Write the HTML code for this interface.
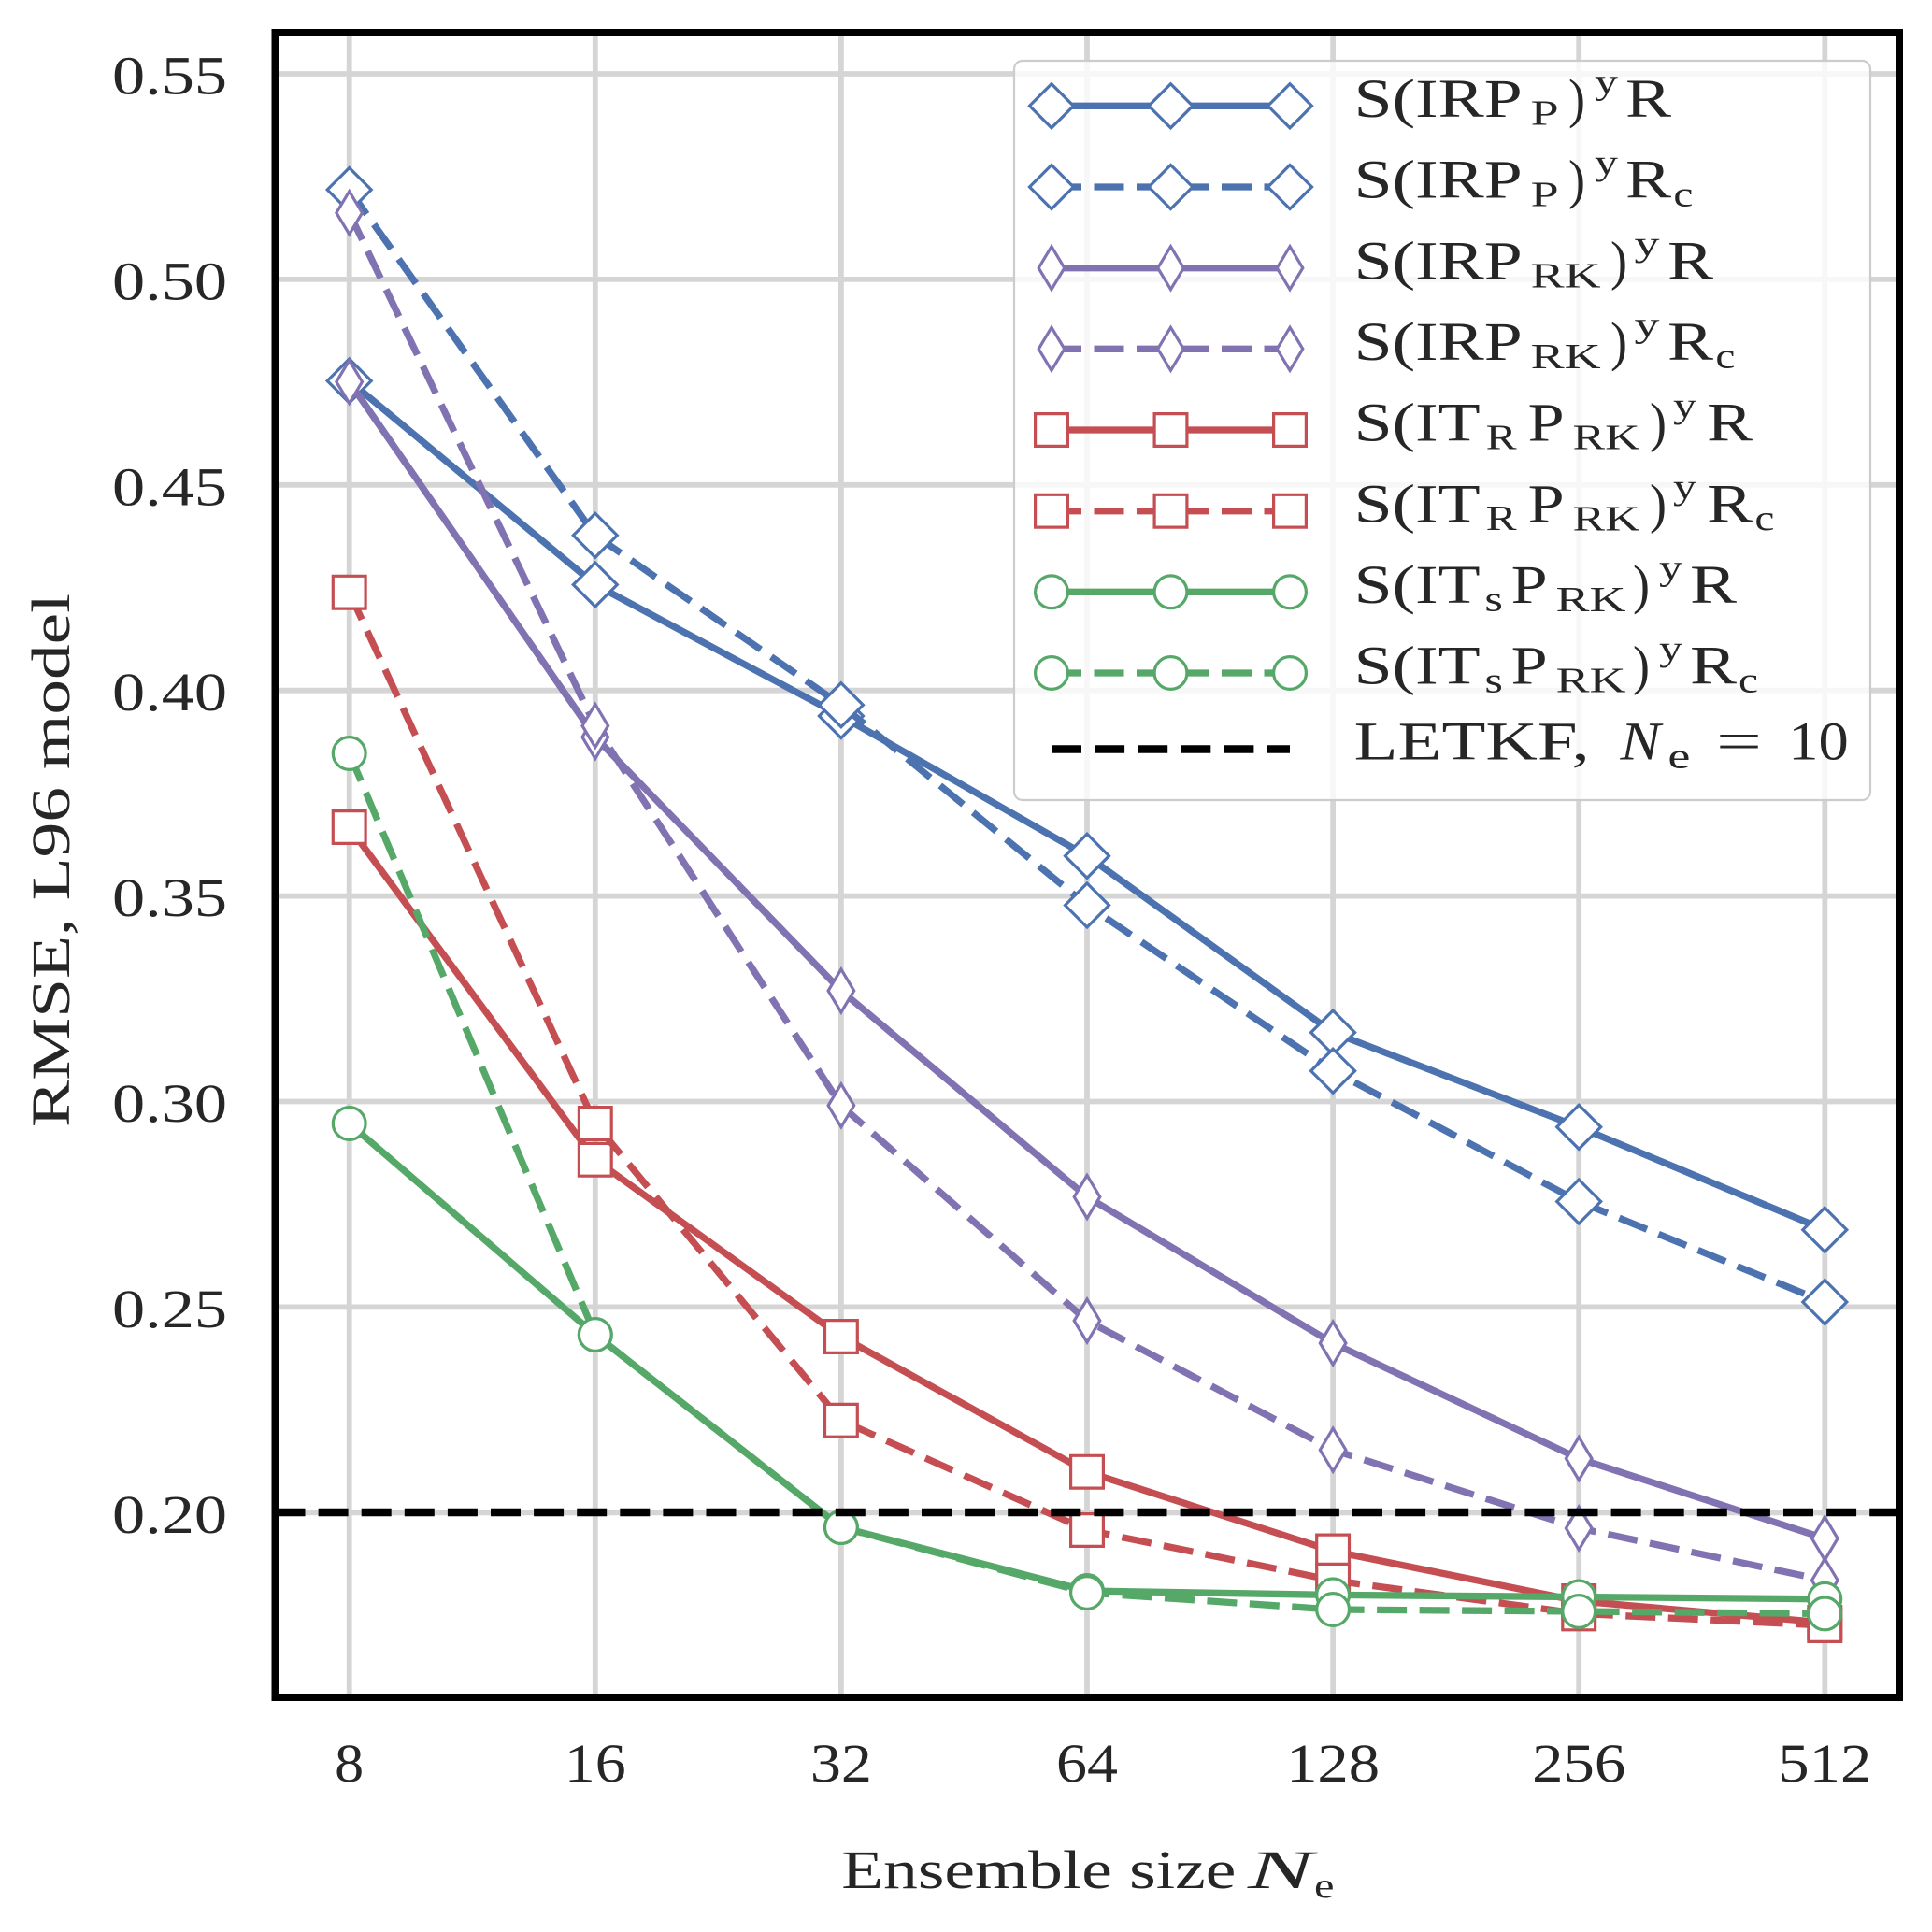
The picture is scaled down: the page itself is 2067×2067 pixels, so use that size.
<!DOCTYPE html>
<html>
<head>
<meta charset="utf-8">
<style>
html,body{margin:0;padding:0;background:#fff;}
svg{display:block;}
text{font-family:"Liberation Serif",serif;fill:#262626;}
</style>
</head>
<body>
<svg width="2067" height="2067" viewBox="0 0 2067 2067">
<defs>
  <path id="mD" d="M0,-23.5 L23.5,0 L0,23.5 L-23.5,0 Z" fill="#fff" stroke-width="3.2" stroke-dasharray="none" stroke-linejoin="miter"/>
  <path id="md" d="M0,-23 L13.8,0 L0,23 L-13.8,0 Z" fill="#fff" stroke-width="3.2" stroke-dasharray="none" stroke-linejoin="miter"/>
  <path id="ms" d="M-17.4,-17.4 H17.4 V17.4 H-17.4 Z" fill="#fff" stroke-width="3.2" stroke-dasharray="none" stroke-linejoin="miter"/>
  <circle id="mo" cx="0" cy="0" r="17.4" fill="#fff" stroke-width="3.2" stroke-dasharray="none"/>
</defs>

<rect x="0" y="0" width="2067" height="2067" fill="#fff"/>

<!-- grid -->
<g stroke="#d5d5d5" stroke-width="5.8">
  <line x1="373.7" y1="35" x2="373.7" y2="1816"/>
  <line x1="636.8" y1="35" x2="636.8" y2="1816"/>
  <line x1="899.9" y1="35" x2="899.9" y2="1816"/>
  <line x1="1163" y1="35" x2="1163" y2="1816"/>
  <line x1="1426.1" y1="35" x2="1426.1" y2="1816"/>
  <line x1="1689.2" y1="35" x2="1689.2" y2="1816"/>
  <line x1="1952.3" y1="35" x2="1952.3" y2="1816"/>
  <line x1="294.5" y1="79" x2="2032" y2="79"/>
  <line x1="294.5" y1="298.9" x2="2032" y2="298.9"/>
  <line x1="294.5" y1="518.8" x2="2032" y2="518.8"/>
  <line x1="294.5" y1="738.7" x2="2032" y2="738.7"/>
  <line x1="294.5" y1="958.6" x2="2032" y2="958.6"/>
  <line x1="294.5" y1="1178.5" x2="2032" y2="1178.5"/>
  <line x1="294.5" y1="1398.4" x2="2032" y2="1398.4"/>
  <line x1="294.5" y1="1618.3" x2="2032" y2="1618.3"/>
</g>

<!-- Blue solid -->
<g stroke="#4C72B0">
  <polyline fill="none" stroke-width="7.3" stroke-linejoin="round" points="373.7,407.5 636.8,625.5 899.9,766 1163,915.8 1426.1,1104.6 1689.2,1205.8 1952.3,1315.7"/>
  <use href="#mD" x="373.7" y="407.5"/><use href="#mD" x="636.8" y="625.5"/><use href="#mD" x="899.9" y="766"/><use href="#mD" x="1163" y="915.8"/><use href="#mD" x="1426.1" y="1104.6"/><use href="#mD" x="1689.2" y="1205.8"/><use href="#mD" x="1952.3" y="1315.7"/>
</g>
<!-- Blue dashed -->
<g stroke="#4C72B0">
  <polyline fill="none" stroke-width="7.3" stroke-dasharray="32 13.5" points="373.7,203 636.8,572.8 899.9,754.2 1163,968.5 1426.1,1145.7 1689.2,1285.5 1952.3,1393"/>
  <use href="#mD" x="373.7" y="203"/><use href="#mD" x="636.8" y="572.8"/><use href="#mD" x="899.9" y="754.2"/><use href="#mD" x="1163" y="968.5"/><use href="#mD" x="1426.1" y="1145.7"/><use href="#mD" x="1689.2" y="1285.5"/><use href="#mD" x="1952.3" y="1393"/>
</g>
<!-- Purple solid -->
<g stroke="#8172B2">
  <polyline fill="none" stroke-width="7.3" stroke-linejoin="round" points="373.7,408.5 636.8,788.6 899.9,1060 1163,1280.5 1426.1,1437 1689.2,1560.5 1952.3,1646"/>
  <use href="#md" x="373.7" y="408.5"/><use href="#md" x="636.8" y="788.6"/><use href="#md" x="899.9" y="1060"/><use href="#md" x="1163" y="1280.5"/><use href="#md" x="1426.1" y="1437"/><use href="#md" x="1689.2" y="1560.5"/><use href="#md" x="1952.3" y="1646"/>
</g>
<!-- Purple dashed -->
<g stroke="#8172B2">
  <polyline fill="none" stroke-width="7.3" stroke-dasharray="32 13.5" points="373.7,227.7 636.8,776.5 899.9,1182.8 1163,1413 1426.1,1551.2 1689.2,1635 1952.3,1690.7"/>
  <use href="#md" x="373.7" y="227.7"/><use href="#md" x="636.8" y="776.5"/><use href="#md" x="899.9" y="1182.8"/><use href="#md" x="1163" y="1413"/><use href="#md" x="1426.1" y="1551.2"/><use href="#md" x="1689.2" y="1635"/><use href="#md" x="1952.3" y="1690.7"/>
</g>
<!-- Red solid -->
<g stroke="#C44E52">
  <polyline fill="none" stroke-width="7.3" stroke-linejoin="round" points="373.7,885 636.8,1240.8 899.9,1430 1163,1574.7 1426.1,1659.5 1689.2,1713 1952.3,1736"/>
  <use href="#ms" x="373.7" y="885"/><use href="#ms" x="636.8" y="1240.8"/><use href="#ms" x="899.9" y="1430"/><use href="#ms" x="1163" y="1574.7"/><use href="#ms" x="1426.1" y="1659.5"/><use href="#ms" x="1689.2" y="1713"/><use href="#ms" x="1952.3" y="1736"/>
</g>
<!-- Red dashed -->
<g stroke="#C44E52">
  <polyline fill="none" stroke-width="7.3" stroke-dasharray="32 13.5" points="373.7,633.7 636.8,1202 899.9,1519.8 1163,1637 1426.1,1690.8 1689.2,1726.4 1952.3,1739"/>
  <use href="#ms" x="373.7" y="633.7"/><use href="#ms" x="636.8" y="1202"/><use href="#ms" x="899.9" y="1519.8"/><use href="#ms" x="1163" y="1637"/><use href="#ms" x="1426.1" y="1690.8"/><use href="#ms" x="1689.2" y="1726.4"/><use href="#ms" x="1952.3" y="1739"/>
</g>
<!-- Green solid -->
<g stroke="#55A868">
  <polyline fill="none" stroke-width="7.3" stroke-linejoin="round" points="373.7,1202 636.8,1428 899.9,1634 1163,1702 1426.1,1706.4 1689.2,1708.5 1952.3,1710.8"/>
  <use href="#mo" x="373.7" y="1202"/><use href="#mo" x="636.8" y="1428"/><use href="#mo" x="899.9" y="1634"/><use href="#mo" x="1163" y="1702"/><use href="#mo" x="1426.1" y="1706.4"/><use href="#mo" x="1689.2" y="1708.5"/><use href="#mo" x="1952.3" y="1710.8"/>
</g>
<!-- Green dashed -->
<g stroke="#55A868">
  <polyline fill="none" stroke-width="7.3" stroke-dasharray="32 13.5" points="373.7,806 636.8,1428 899.9,1634 1163,1704 1426.1,1722 1689.2,1724 1952.3,1726.4"/>
  <use href="#mo" x="373.7" y="806"/><use href="#mo" x="636.8" y="1428"/><use href="#mo" x="899.9" y="1634"/><use href="#mo" x="1163" y="1704"/><use href="#mo" x="1426.1" y="1722"/><use href="#mo" x="1689.2" y="1724"/><use href="#mo" x="1952.3" y="1726.4"/>
</g>

<!-- LETKF line -->
<line x1="294.5" y1="1618" x2="2032" y2="1618" stroke="#000" stroke-width="8.6" stroke-dasharray="32 14.1"/>

<!-- frame -->
<rect x="294.5" y="35" width="1737.5" height="1781" fill="none" stroke="#000" stroke-width="8"/>

<!-- y tick labels -->
<g font-size="58">
  <text x="120" y="100.5" textLength="123" lengthAdjust="spacingAndGlyphs">0.55</text>
  <text x="120" y="320.4" textLength="123" lengthAdjust="spacingAndGlyphs">0.50</text>
  <text x="120" y="540.3" textLength="123" lengthAdjust="spacingAndGlyphs">0.45</text>
  <text x="120" y="760.2" textLength="123" lengthAdjust="spacingAndGlyphs">0.40</text>
  <text x="120" y="980.1" textLength="123" lengthAdjust="spacingAndGlyphs">0.35</text>
  <text x="120" y="1200" textLength="123" lengthAdjust="spacingAndGlyphs">0.30</text>
  <text x="120" y="1419.9" textLength="123" lengthAdjust="spacingAndGlyphs">0.25</text>
  <text x="120" y="1639.8" textLength="123" lengthAdjust="spacingAndGlyphs">0.20</text>
</g>

<!-- x tick labels -->
<g font-size="58">
  <text x="358.2" y="1906" textLength="31" lengthAdjust="spacingAndGlyphs">8</text>
  <text x="603.8" y="1906" textLength="66" lengthAdjust="spacingAndGlyphs">16</text>
  <text x="866.9" y="1906" textLength="66" lengthAdjust="spacingAndGlyphs">32</text>
  <text x="1130" y="1906" textLength="66" lengthAdjust="spacingAndGlyphs">64</text>
  <text x="1376.1" y="1906" textLength="100" lengthAdjust="spacingAndGlyphs">128</text>
  <text x="1639.2" y="1906" textLength="100" lengthAdjust="spacingAndGlyphs">256</text>
  <text x="1902.3" y="1906" textLength="100" lengthAdjust="spacingAndGlyphs">512</text>
</g>

<!-- x label -->
<g font-size="58">
  <text x="900.3" y="2020" textLength="422" lengthAdjust="spacingAndGlyphs">Ensemble size</text>
  <text x="1335" y="2020" font-style="italic" textLength="70" lengthAdjust="spacingAndGlyphs">N</text>
  <text x="1406" y="2030" font-size="38" textLength="21.5" lengthAdjust="spacingAndGlyphs">e</text>
</g>

<!-- y label -->
<text transform="translate(73.8,1206) rotate(-90)" x="0" y="0" font-size="58" textLength="571" lengthAdjust="spacingAndGlyphs">RMSE, L96 model</text>

<!-- legend -->
<rect x="1085" y="65" width="916" height="791" rx="9" ry="9" fill="#fff" fill-opacity="0.8" stroke="#cccccc" stroke-width="2.2"/>

<!-- legend handles -->
<g stroke="#4C72B0">
  <line x1="1125" y1="113.3" x2="1380" y2="113.3" stroke-width="7.3"/>
  <use href="#mD" x="1125" y="113.3"/><use href="#mD" x="1252.5" y="113.3"/><use href="#mD" x="1380" y="113.3"/>
  <line x1="1125" y1="200" x2="1380" y2="200" stroke-width="7.3" stroke-dasharray="32 13.5"/>
  <use href="#mD" x="1125" y="200"/><use href="#mD" x="1252.5" y="200"/><use href="#mD" x="1380" y="200"/>
</g>
<g stroke="#8172B2">
  <line x1="1125" y1="286.7" x2="1380" y2="286.7" stroke-width="7.3"/>
  <use href="#md" x="1125" y="286.7"/><use href="#md" x="1252.5" y="286.7"/><use href="#md" x="1380" y="286.7"/>
  <line x1="1125" y1="373.3" x2="1380" y2="373.3" stroke-width="7.3" stroke-dasharray="32 13.5"/>
  <use href="#md" x="1125" y="373.3"/><use href="#md" x="1252.5" y="373.3"/><use href="#md" x="1380" y="373.3"/>
</g>
<g stroke="#C44E52">
  <line x1="1125" y1="460" x2="1380" y2="460" stroke-width="7.3"/>
  <use href="#ms" x="1125" y="460"/><use href="#ms" x="1252.5" y="460"/><use href="#ms" x="1380" y="460"/>
  <line x1="1125" y1="546.7" x2="1380" y2="546.7" stroke-width="7.3" stroke-dasharray="32 13.5"/>
  <use href="#ms" x="1125" y="546.7"/><use href="#ms" x="1252.5" y="546.7"/><use href="#ms" x="1380" y="546.7"/>
</g>
<g stroke="#55A868">
  <line x1="1125" y1="633.3" x2="1380" y2="633.3" stroke-width="7.3"/>
  <use href="#mo" x="1125" y="633.3"/><use href="#mo" x="1252.5" y="633.3"/><use href="#mo" x="1380" y="633.3"/>
  <line x1="1125" y1="720" x2="1380" y2="720" stroke-width="7.3" stroke-dasharray="32 13.5"/>
  <use href="#mo" x="1125" y="720"/><use href="#mo" x="1252.5" y="720"/><use href="#mo" x="1380" y="720"/>
</g>
<line x1="1125" y1="801.5" x2="1380" y2="801.5" stroke="#000" stroke-width="8.6" stroke-dasharray="32 14.1"/>

<!-- legend text -->
<g font-size="58">
  <!-- row 1 -->
  <text x="1448.7" y="125" textLength="180" lengthAdjust="spacingAndGlyphs">S(IRP</text>
  <text x="1637.6" y="133.7" font-size="38" textLength="30" lengthAdjust="spacingAndGlyphs">P</text>
  <text x="1678" y="125" textLength="18" lengthAdjust="spacingAndGlyphs">)</text>
  <text x="1706" y="100" font-size="38" textLength="25" lengthAdjust="spacingAndGlyphs">y</text>
  <text x="1739" y="125" textLength="49" lengthAdjust="spacingAndGlyphs">R</text>
  <!-- row 2 -->
  <text x="1448.7" y="211.7" textLength="180" lengthAdjust="spacingAndGlyphs">S(IRP</text>
  <text x="1637.6" y="220.4" font-size="38" textLength="30" lengthAdjust="spacingAndGlyphs">P</text>
  <text x="1678" y="211.7" textLength="18" lengthAdjust="spacingAndGlyphs">)</text>
  <text x="1706" y="186.7" font-size="38" textLength="25" lengthAdjust="spacingAndGlyphs">y</text>
  <text x="1739" y="211.7" textLength="49" lengthAdjust="spacingAndGlyphs">R</text>
  <text x="1790.4" y="220.4" font-size="38" textLength="21" lengthAdjust="spacingAndGlyphs">c</text>
  <!-- row 3 -->
  <text x="1448.7" y="298.3" textLength="180" lengthAdjust="spacingAndGlyphs">S(IRP</text>
  <text x="1637.6" y="307.3" font-size="38" textLength="75" lengthAdjust="spacingAndGlyphs">RK</text>
  <text x="1723" y="298.3" textLength="18" lengthAdjust="spacingAndGlyphs">)</text>
  <text x="1748.5" y="273.3" font-size="38" textLength="27" lengthAdjust="spacingAndGlyphs">y</text>
  <text x="1784" y="298.3" textLength="49" lengthAdjust="spacingAndGlyphs">R</text>
  <!-- row 4 -->
  <text x="1448.7" y="385" textLength="180" lengthAdjust="spacingAndGlyphs">S(IRP</text>
  <text x="1637.6" y="394" font-size="38" textLength="75" lengthAdjust="spacingAndGlyphs">RK</text>
  <text x="1723" y="385" textLength="18" lengthAdjust="spacingAndGlyphs">)</text>
  <text x="1748.5" y="360" font-size="38" textLength="27" lengthAdjust="spacingAndGlyphs">y</text>
  <text x="1784" y="385" textLength="49" lengthAdjust="spacingAndGlyphs">R</text>
  <text x="1835.4" y="393.7" font-size="38" textLength="21" lengthAdjust="spacingAndGlyphs">c</text>
  <!-- row 5 -->
  <text x="1448.7" y="471.7" textLength="135" lengthAdjust="spacingAndGlyphs">S(IT</text>
  <text x="1589.6" y="480.4" font-size="38" textLength="33" lengthAdjust="spacingAndGlyphs">R</text>
  <text x="1634.6" y="471.7" textLength="39" lengthAdjust="spacingAndGlyphs">P</text>
  <text x="1682.5" y="480.7" font-size="38" textLength="72" lengthAdjust="spacingAndGlyphs">RK</text>
  <text x="1765" y="471.7" textLength="18" lengthAdjust="spacingAndGlyphs">)</text>
  <text x="1790" y="446.7" font-size="38" textLength="25" lengthAdjust="spacingAndGlyphs">y</text>
  <text x="1826" y="471.7" textLength="49" lengthAdjust="spacingAndGlyphs">R</text>
  <!-- row 6 -->
  <text x="1448.7" y="558.3" textLength="135" lengthAdjust="spacingAndGlyphs">S(IT</text>
  <text x="1589.6" y="567" font-size="38" textLength="33" lengthAdjust="spacingAndGlyphs">R</text>
  <text x="1634.6" y="558.3" textLength="39" lengthAdjust="spacingAndGlyphs">P</text>
  <text x="1682.5" y="567.3" font-size="38" textLength="72" lengthAdjust="spacingAndGlyphs">RK</text>
  <text x="1765" y="558.3" textLength="18" lengthAdjust="spacingAndGlyphs">)</text>
  <text x="1790" y="533.3" font-size="38" textLength="25" lengthAdjust="spacingAndGlyphs">y</text>
  <text x="1826" y="558.3" textLength="49" lengthAdjust="spacingAndGlyphs">R</text>
  <text x="1877.4" y="567" font-size="38" textLength="21" lengthAdjust="spacingAndGlyphs">c</text>
  <!-- row 7 -->
  <text x="1448.7" y="645" textLength="135" lengthAdjust="spacingAndGlyphs">S(IT</text>
  <text x="1588.4" y="653.7" font-size="38" textLength="19.5" lengthAdjust="spacingAndGlyphs">s</text>
  <text x="1616.6" y="645" textLength="39" lengthAdjust="spacingAndGlyphs">P</text>
  <text x="1664.5" y="654" font-size="38" textLength="75" lengthAdjust="spacingAndGlyphs">RK</text>
  <text x="1747" y="645" textLength="18" lengthAdjust="spacingAndGlyphs">)</text>
  <text x="1775" y="620" font-size="38" textLength="25" lengthAdjust="spacingAndGlyphs">y</text>
  <text x="1808" y="645" textLength="50" lengthAdjust="spacingAndGlyphs">R</text>
  <!-- row 8 -->
  <text x="1448.7" y="731.7" textLength="135" lengthAdjust="spacingAndGlyphs">S(IT</text>
  <text x="1588.4" y="740.4" font-size="38" textLength="19.5" lengthAdjust="spacingAndGlyphs">s</text>
  <text x="1616.6" y="731.7" textLength="39" lengthAdjust="spacingAndGlyphs">P</text>
  <text x="1664.5" y="740.7" font-size="38" textLength="75" lengthAdjust="spacingAndGlyphs">RK</text>
  <text x="1747" y="731.7" textLength="18" lengthAdjust="spacingAndGlyphs">)</text>
  <text x="1775" y="706.7" font-size="38" textLength="25" lengthAdjust="spacingAndGlyphs">y</text>
  <text x="1808" y="731.7" textLength="50" lengthAdjust="spacingAndGlyphs">R</text>
  <text x="1860" y="740.4" font-size="38" textLength="21" lengthAdjust="spacingAndGlyphs">c</text>
  <!-- row 9 -->
  <text x="1448.7" y="812.7" textLength="252" lengthAdjust="spacingAndGlyphs">LETKF,</text>
  <text x="1733.5" y="812.7" font-style="italic" textLength="43" lengthAdjust="spacingAndGlyphs">N</text>
  <text x="1784.4" y="821.4" font-size="38" textLength="24" lengthAdjust="spacingAndGlyphs">e</text>
  <text x="1836" y="812.7" textLength="49" lengthAdjust="spacingAndGlyphs">=</text>
  <text x="1913.3" y="812.7" textLength="64.5" lengthAdjust="spacingAndGlyphs">10</text>
</g>
</svg>
</body>
</html>
